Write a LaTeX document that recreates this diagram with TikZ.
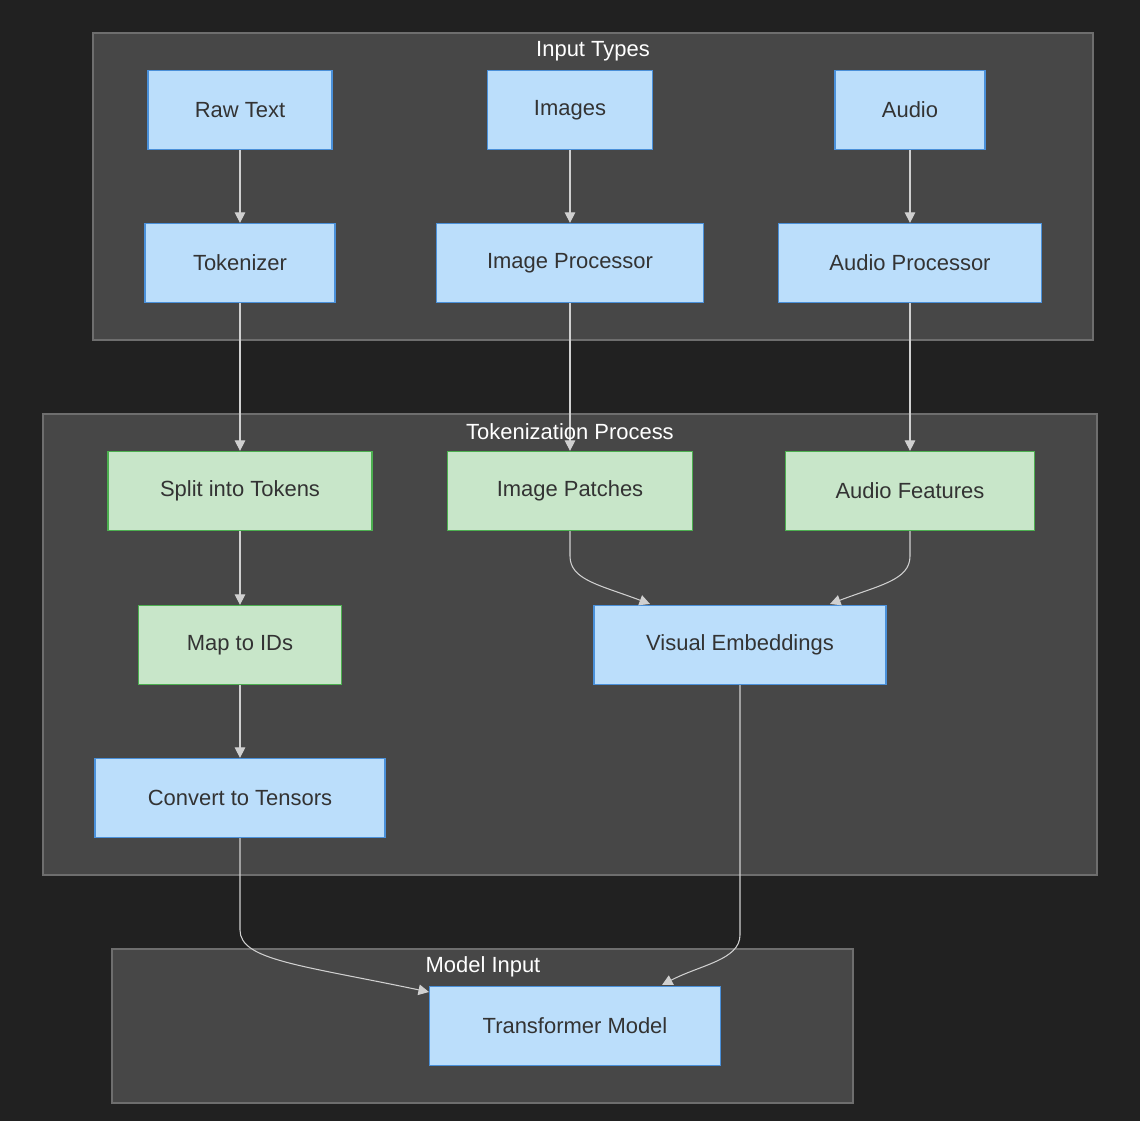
\documentclass[tikz,border=0pt]{standalone}
\usepackage{fontspec}
\setmainfont{Liberation Sans}
\usetikzlibrary{arrows.meta}
\definecolor{bgdark}{HTML}{212121}
\definecolor{clfill}{HTML}{474747}
\definecolor{clline}{HTML}{6E6E6E}
\definecolor{bluefill}{HTML}{BBDEFB}
\definecolor{blueline}{HTML}{4A90D9}
\definecolor{greenfill}{HTML}{C8E6C9}
\definecolor{greenline}{HTML}{4CAF50}
\definecolor{txt}{HTML}{333333}
\definecolor{edge}{HTML}{D0D0D0}
\tikzset{
  box/.style={draw, line width=0.7pt, minimum height=1.58cm, text=txt,
    font=\fontsize{12.5}{14}\selectfont, inner sep=0pt},
  bluebox/.style={box, fill=bluefill, draw=blueline},
  greenbox/.style={box, fill=greenfill, draw=greenline},
  cluster/.style={fill=clfill, draw=clline, line width=0.7pt},
  cltitle/.style={text=white, font=\fontsize{12.5}{14}\selectfont},
  flow/.style={draw=edge, line width=0.6pt, -{Triangle[length=6pt,width=6pt]}}
}
\begin{document}
\begin{tikzpicture}[x=0.02cm, y=-0.02cm]

  \fill[bgdark] (0,0) rectangle (1140,1121);
  \useasboundingbox (0,0) rectangle (1140,1121);

  % clusters
  \draw[cluster] (93,33) rectangle (1093,340);
  \node[cltitle] (tInput) at (593,51) {Input Types};
  \draw[cluster] (43,414) rectangle (1097,875);
  \draw[cluster] (112,949) rectangle (853,1103);

  % input types
  \node[bluebox, minimum width=3.68cm] (rawText) at (240,110) {Raw Text};
  \node[bluebox, minimum width=3.30cm] (images) at (570,110) {Images};
  \node[bluebox, minimum width=3.00cm] (audio) at (910,110) {Audio};
  \node[bluebox, minimum width=3.80cm] (tokenizer) at (240,263) {Tokenizer};
  \node[bluebox, minimum width=5.34cm] (imgProc) at (570,263) {Image Processor};
  \node[bluebox, minimum width=5.26cm] (audProc) at (910,263) {Audio Processor};

  % tokenization process
  \node[greenbox, minimum width=5.28cm] (split) at (240,491) {Split into Tokens};
  \node[greenbox, minimum width=4.90cm] (patches) at (570,491) {Image Patches};
  \node[greenbox, minimum width=4.98cm] (features) at (910,491) {Audio Features};
  \node[greenbox, minimum width=4.06cm] (mapIds) at (240,645) {Map to IDs};
  \node[bluebox, minimum width=5.84cm] (visEmb) at (740,645) {Visual Embeddings};
  \node[bluebox, minimum width=5.80cm] (tensors) at (240,798) {Convert to Tensors};

  % model input
  \node[bluebox, minimum width=5.82cm] (transformer) at (575,1026) {Transformer Model};

  % connectors
  \draw[flow] (rawText) -- (tokenizer);
  \draw[flow] (images) -- (imgProc);
  \draw[flow] (audio) -- (audProc);
  \draw[flow] (tokenizer) -- (split);
  \draw[flow] (imgProc) -- (patches);
  \draw[flow] (audProc) -- (features);
  \draw[flow] (split) -- (mapIds);
  \draw[flow] (mapIds) -- (tensors);
  \draw[flow] (patches.south) -- ++(0,25) .. controls (570,580) and (600,585) .. (650,604);
  \draw[flow] (features.south) -- ++(0,25) .. controls (910,580) and (880,585) .. (830,604);
  \draw[flow] (visEmb.south) -- (740,935) .. controls (740,960) and (700,965) .. (662,985);
  \draw[flow] (tensors.south) -- (240,930) .. controls (240,960) and (300,965) .. (429,992);

  \node[cltitle] (tToken) at (570,432) {Tokenization Process};
  \node[cltitle] (tModel) at (483,967) {Model Input};

\end{tikzpicture}
\end{document}
